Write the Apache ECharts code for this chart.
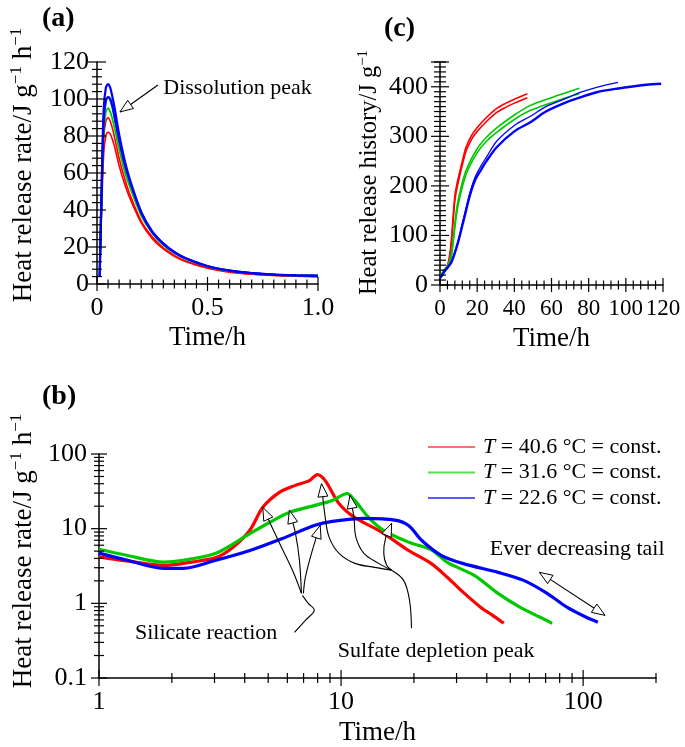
<!DOCTYPE html>
<html><head><meta charset="utf-8">
<script src="https://cdn.jsdelivr.net/npm/echarts@6/dist/echarts.min.js"></script>
<style>html,body{margin:0;padding:0;background:#fff}#c{width:685px;height:747px}</style>
</head><body><div id="c"></div>
<script>
// ---------- Panel (a): heat release rate, first hour ----------
const aTime   = [0.012, 0.02, 0.03, 0.04, 0.05, 0.06, 0.07, 0.08, 0.1, 0.125, 0.15, 0.2, 0.25, 0.3, 0.35, 0.4, 0.5, 0.6, 0.7, 0.8, 0.9, 1.0];
const aRed1   = [4, 40, 78, 88, 90, 88, 84, 79, 68, 57, 48, 34, 25.5, 19.5, 15.5, 12.5, 8.8, 6.6, 5.4, 4.7, 4.3, 4.0];
const aRed2   = [4, 36, 70, 80, 82, 81, 78, 74, 64, 54, 46, 33, 24.5, 19, 15, 12.2, 8.5, 6.4, 5.3, 4.6, 4.2, 3.9];
const aGreen1 = [4, 45, 88, 99, 101, 99, 95, 89, 77, 64, 54, 38, 28, 21.5, 17, 13.8, 9.6, 7.2, 5.9, 5.1, 4.7, 4.5];
const aGreen2 = [4, 42, 82, 93, 95, 93, 89, 84, 73, 61, 52, 37, 27.5, 21, 16.7, 13.5, 9.4, 7.1, 5.8, 5.0, 4.6, 4.4];
const aBlue1  = [4, 48, 94, 106, 108, 106, 101, 95, 81, 67, 56, 39, 28.5, 22, 17.3, 14, 9.7, 7.2, 5.9, 5.1, 4.7, 4.5];
const aBlue2  = [4, 45, 88, 99, 101, 100, 96, 90, 78, 65, 55, 38.5, 28, 21.7, 17.1, 13.9, 9.6, 7.2, 5.9, 5.1, 4.7, 4.4];
const aXLabels = {0: '0', 0.5: '0.5', 1: '1.0'};

// ---------- Panel (b): heat release rate, log-log ----------
const bTimeR = [1, 1.3, 1.85, 2.23, 3.04, 3.57, 4.2, 4.75, 5.56, 6.47, 7.4, 7.98, 8.6, 9.8, 11.4, 14.7, 19, 23.6, 27.6, 32, 37.8, 42, 47];
const bRed   = [4.2, 3.7, 3.22, 3.43, 4.1, 5.6, 9.5, 19.3, 30.6, 38, 44, 53, 44, 21.8, 14.1, 9, 5.1, 3.4, 2.2, 1.4, 0.88, 0.7, 0.54];
const bTimeG = [1, 1.3, 1.85, 2.23, 3.04, 4.2, 5.06, 6.1, 7.8, 9.2, 10.6, 11.4, 13, 15, 19, 23.6, 27.6, 35.5, 44.5, 55, 66.5, 74.5];
const bGreen = [5.3, 4.4, 3.57, 3.77, 4.67, 8.6, 12.1, 16.5, 20.5, 23.9, 29.6, 23.9, 14.1, 9.5, 6.6, 5.2, 3.5, 2.37, 1.36, 0.88, 0.65, 0.54];
const bTimeB = [1, 1.3, 1.85, 2.23, 3.04, 4.2, 5.73, 7.8, 9.2, 12.5, 16.7, 19, 21.5, 25.9, 32, 44.5, 56.8, 71, 86, 103, 115];
const bBlue  = [4.7, 3.8, 2.94, 2.94, 3.77, 5.1, 7.4, 11.1, 12.5, 13.7, 13, 11, 7, 4.4, 3.4, 2.6, 2.03, 1.36, 0.88, 0.65, 0.56];
const bLegend = ['40.6', '31.6', '22.6'];

// ---------- Panel (c): cumulative heat release ----------
const cTimeR  = [0.3, 2, 4, 5, 6, 7, 8, 9, 10, 12, 14, 17, 20, 25, 30, 35, 40, 47];
const cRed1   = [15, 27, 40, 55, 85, 135, 180, 202, 218, 250, 278, 302, 318, 338, 355, 366, 375, 386];
const cRed2   = [15, 25, 37, 50, 78, 125, 170, 193, 210, 242, 270, 294, 310, 330, 347, 358, 367, 378];
const cTimeG  = [0.3, 2, 4, 6, 7, 8, 9, 10, 12.5, 15, 20, 25, 30.5, 40, 48.4, 60, 66.2, 75];
const cGreen1 = [18, 30, 38, 60, 90, 125, 155, 175, 214, 240, 275, 298, 317, 343, 362, 378, 386, 397];
const cGreen2 = [18, 29, 36, 55, 82, 115, 145, 166, 205, 232, 267, 290, 308, 334, 352, 368, 376, 386];
const cTimeB1 = [0.3, 2, 4, 6, 8, 10, 12, 14, 16, 18.8, 22, 25, 30.5, 40, 48.4, 57, 66.2, 75, 84.3, 95, 111, 119];
const cBlue1  = [15, 25, 35, 45, 65, 90, 120, 150, 180, 211, 232, 250, 278, 310, 328, 350, 366, 378, 389, 396, 404, 406];
const cTimeB2 = [0.3, 2, 4, 6, 8, 10, 12, 14, 16, 18.8, 22, 25, 30.5, 40, 48.4, 57, 66.2, 75, 84.3, 95.8];
const cBlue2  = [15, 25, 35, 46, 67, 93, 124, 155, 185, 217, 240, 258, 290, 322, 340, 360, 374, 388, 399, 409];

// ---------- Annotations (data coordinates) ----------
const annA = {text: 'Dissolution peak', textAt: [0.30, 106], from: [0.276, 107.6], tip: [0.104, 93]};
const annSilicate = {
  text: 'Silicate reaction', textAt: [2.77, 0.40],
  arrows: [
    [[4.75, 19.3], [5.57, 6.36], [6.30, 2.77], [6.86, 1.36]],
    [[6.12, 17.6], [6.48, 8.65], [6.73, 3.76], [6.86, 1.36]],
    [[8.20, 11.07], [7.61, 5.12], [7.12, 2.23], [6.99, 1.36]]
  ],
  tail: [[6.92, 1.28], [7.32, 1.0], [7.75, 0.806], [7.12, 0.592], [6.42, 0.409]]
};
const annSulfate = {
  text: 'Sulfate depletion peak', textAt: [24.7, 0.228],
  arrows: [
    [[8.30, 40.0], [8.60, 14.17], [8.93, 7.65], [9.81, 4.67], [11.41, 3.43], [13.78, 3.03], [16.18, 2.77]],
    [[10.89, 27.9], [11.30, 14.17], [11.52, 7.65], [12.43, 4.67], [14.31, 3.43], [16.18, 2.77]],
    [[16.18, 11.78], [15.29, 7.65], [15.01, 4.67], [15.43, 3.23], [16.18, 2.77]]
  ],
  tail: [[16.18, 2.77], [18.13, 2.03], [19.18, 1.10], [19.54, 0.463]]
};
const annTail = {text: 'Ever decreasing tail', textAt: [94.5, 5.28], a: [66.0, 2.60], b: [123.1, 0.691]};

// ---------- Styling ----------
const FONT = 'Liberation Serif';
const RED = '#ff0000', GREEN = '#00c800', BLUE = '#0000ff';
const LRED = '#ff7070', LGREEN = '#50e050', LBLUE = '#5a5aff';

const zip = (t, v) => t.map((x, i) => [x, v[i]]);
function line(name, gi, t, v, color, w) {
  return {name, type: 'line', xAxisIndex: gi, yAxisIndex: gi, data: zip(t, v), smooth: 0.3,
    showSymbol: false, symbol: 'none', lineStyle: {color, width: w}, itemStyle: {color}, silent: true, z: 3};
}
function ticks(gi, axis, vals, other, half) {
  return {type: 'custom', xAxisIndex: gi, yAxisIndex: gi, silent: true, clip: false, z: 6,
    data: vals.map(v => axis === 'x' ? [v, other] : [other, v]),
    renderItem: (p, api) => {
      const c = api.coord([api.value(0), api.value(1)]);
      const shape = axis === 'x' ? {x1: c[0], y1: c[1] - half, x2: c[0], y2: c[1] + half}
                                 : {x1: c[0] - half, y1: c[1], x2: c[0] + half, y2: c[1]};
      return {type: 'line', shape, style: {stroke: '#000', lineWidth: 1.2}};
    }};
}
function range(a, b, s) { const r = []; for (let i = 0; a + i * s <= b + 1e-9; i++) r.push(+(a + i * s).toFixed(6)); return r; }

const axLine = {show: true, lineStyle: {color: '#000', width: 1.5}};
const lab = (size) => ({color: '#000', fontFamily: FONT, fontSize: size});
function richName(size, pad) {
  return {...lab(size), padding: pad, rich: {
    n: {fontFamily: FONT, fontSize: size, color: '#000', verticalAlign: 'bottom', lineHeight: size + 2},
    s: {fontFamily: FONT, fontSize: Math.round(size * 0.62), color: '#000', verticalAlign: 'bottom', padding: [0, 0, Math.round(size * 0.45), 0]}
  }};
}

// tick sets
const aXMaj = [0, 0.5, 1], aXMin = range(0.05, 0.95, 0.05).filter(v => Math.abs(v - 0.5) > 1e-6);
const aYMaj = range(0, 120, 20), aYMin = range(0, 120, 4).filter(v => v % 20 !== 0);
const cXMaj = range(0, 120, 20), cXMin = range(0, 120, 4).filter(v => v % 20 !== 0);
const cYMaj = range(0, 400, 100).concat([450]), cYMin = range(0, 450, 10).filter(v => v % 100 !== 0);
const bXMaj = [1, 10, 100], bXMin = [2,3,4,5,6,7,8,9,20,30,40,50,60,70,80,90,200];
const bYMaj = [0.1, 1, 10, 100], bYMin = [0.2,0.3,0.4,0.5,0.6,0.7,0.8,0.9,2,3,4,5,6,7,8,9,20,30,40,50,60,70,80,90];

const TICKF = 26, NAMEF = 27;
const chart = echarts.init(document.getElementById('c'), null, {renderer: 'canvas'});
const option = {
  animation: false,
  backgroundColor: '#fff',
  grid: [
    {left: 97, top: 62, width: 221, height: 222},
    {left: 95, top: 454, width: 561, height: 224},
    {left: 440, top: 62, width: 223, height: 223}
  ],
  xAxis: [
    {gridIndex: 0, type: 'value', min: 0, max: 1, interval: 0.5, axisLine: axLine, axisTick: {show: false}, splitLine: {show: false},
     axisLabel: {...lab(TICKF), margin: 11, showMinLabel: true, showMaxLabel: true, formatter: v => aXLabels[v] ?? ''},
     name: 'Time/h', nameLocation: 'middle', nameGap: 40, nameTextStyle: lab(NAMEF)},
    {gridIndex: 1, type: 'log', logBase: 10, min: 1, max: 200, axisLine: axLine, axisTick: {show: false}, splitLine: {show: false}, minorTick: {show: false},
     axisLabel: {...lab(TICKF), margin: 11, formatter: v => [1, 10, 100].includes(Math.round(v)) && Math.abs(v - Math.round(v)) < 1e-6 ? String(Math.round(v)) : ''},
     name: 'Time/h', nameLocation: 'middle', nameGap: 41, nameTextStyle: lab(NAMEF)},
    {gridIndex: 2, type: 'value', min: 0, max: 120, interval: 20, axisLine: axLine, axisTick: {show: false}, splitLine: {show: false},
     axisLabel: {...lab(23), margin: 12, showMinLabel: true, showMaxLabel: true},
     name: 'Time/h', nameLocation: 'middle', nameGap: 40, nameTextStyle: lab(NAMEF)}
  ],
  yAxis: [
    {gridIndex: 0, type: 'value', min: 0, max: 120, interval: 20, axisLine: axLine, axisTick: {show: false}, splitLine: {show: false},
     axisLabel: {...lab(TICKF), margin: 8, showMinLabel: true, showMaxLabel: true},
     name: '{n|Heat release rate/J g}{s|−1}{n| h}{s|−1}', nameLocation: 'middle', nameGap: 60, nameRotate: 90,
     nameTextStyle: richName(NAMEF, [0, 0, 0, 16])},
    {gridIndex: 1, type: 'log', logBase: 10, min: 0.1, max: 100, axisLine: axLine, axisTick: {show: false}, splitLine: {show: false}, minorTick: {show: false},
     axisLabel: {...lab(TICKF), margin: 12, showMinLabel: true, showMaxLabel: true, formatter: v => String(+(+v).toPrecision(2))},
     name: '{n|Heat release rate/J g}{s|−1}{n| h}{s|−1}', nameLocation: 'middle', nameGap: 62, nameRotate: 90,
     nameTextStyle: richName(NAMEF, [0, 0, 0, 30])},
    {gridIndex: 2, type: 'value', min: 0, max: 450, interval: 100, axisLine: axLine, axisTick: {show: false}, splitLine: {show: false},
     axisLabel: {...lab(TICKF), margin: 12, formatter: v => v % 100 === 0 ? String(v) : ''},
     name: '{n|Heat release history/J g}{s|−1}', nameLocation: 'middle', nameGap: 58, nameRotate: 90,
     nameTextStyle: richName(24.5, [0, 0, 0, 2])}
  ],
  legend: {
    left: 423, top: 431, orient: 'vertical', itemWidth: 47, itemHeight: 2, itemGap: 3.5, icon: 'rect',
    selectedMode: false,
    data: [
      {name: 'b0', itemStyle: {color: LRED}},
      {name: 'b1', itemStyle: {color: LGREEN}},
      {name: 'b2', itemStyle: {color: LBLUE}}
    ],
    formatter: n => '{i|T} = ' + bLegend[+n.slice(1)] + ' °C = const.',
    textStyle: {fontFamily: FONT, fontSize: 22, lineHeight: 22, color: '#000', padding: [0, 0, 0, 3],
      rich: {i: {fontFamily: FONT, fontSize: 22, lineHeight: 22, fontStyle: 'italic', color: '#000'}}}
  },
  series: [
    line('a', 0, aTime, aRed2, RED, 1.6), line('a', 0, aTime, aRed1, RED, 1.6),
    line('a', 0, aTime, aGreen2, GREEN, 1.8), line('a', 0, aTime, aGreen1, GREEN, 1.8),
    line('a', 0, aTime, aBlue2, BLUE, 2.2), line('a', 0, aTime, aBlue1, BLUE, 2.2),
    line('b0', 1, bTimeR, bRed, RED, 3.2), line('b1', 1, bTimeG, bGreen, GREEN, 3.2), line('b2', 1, bTimeB, bBlue, BLUE, 3.2),
    line('c', 2, cTimeR, cRed2, RED, 1.6), line('c', 2, cTimeR, cRed1, RED, 1.6),
    line('c', 2, cTimeG, cGreen2, GREEN, 1.6), line('c', 2, cTimeG, cGreen1, GREEN, 1.6),
    line('c', 2, cTimeB1, cBlue1, BLUE, 2.4), line('c', 2, cTimeB2, cBlue2, BLUE, 1.3),
    ticks(0, 'x', aXMaj, 0, 7), ticks(0, 'x', aXMin, 0, 4.5), ticks(0, 'y', aYMaj, 0, 9), ticks(0, 'y', aYMin, 0, 5),
    ticks(2, 'x', cXMaj, 0, 7), ticks(2, 'x', cXMin, 0, 4.5), ticks(2, 'y', cYMaj, 0, 9), ticks(2, 'y', cYMin, 0, 6),
    ticks(1, 'x', bXMaj, 0.1, 8), ticks(1, 'x', bXMin, 0.1, 5), ticks(1, 'y', bYMaj, 1, 8), ticks(1, 'y', bYMin, 1, 5)
  ]
};
chart.setOption(option);

// ---------- annotation graphics ----------
const px = (gi, p) => chart.convertToPixel({gridIndex: gi}, p);
function arrowHead(tip, from, L = 13, W = 5) {
  const dx = tip[0] - from[0], dy = tip[1] - from[1], d = Math.hypot(dx, dy) || 1;
  const ux = dx / d, uy = dy / d, bx = tip[0] - ux * L, by = tip[1] - uy * L;
  return {type: 'polygon', z: 20, shape: {points: [tip, [bx - uy * W, by + ux * W], [bx + uy * W, by - ux * W]]},
          style: {fill: '#fff', stroke: '#000', lineWidth: 1}};
}
function curve(pts) {
  return {type: 'polyline', z: 19, shape: {points: pts, smooth: 0.35}, style: {stroke: '#000', lineWidth: 1.1, fill: null}};
}
function text(str, p, align) {
  return {type: 'text', z: 20, style: {text: str, x: p[0], y: p[1], fill: '#000', font: '22px "' + FONT + '"', align: align || 'center', verticalAlign: 'middle'}};
}
const g = [];
{
  const f = px(0, annA.from), t = px(0, annA.tip);
  g.push(curve([f, t]), arrowHead(t, f), text(annA.text, px(0, annA.textAt), 'left'));
}
[annSilicate, annSulfate].forEach(an => {
  an.arrows.forEach(a => {
    const pts = a.map(p => px(1, p));
    g.push(curve(pts), arrowHead(pts[0], pts[1]));
  });
  g.push(curve(an.tail.map(p => px(1, p))));
  g.push(text(an.text, px(1, an.textAt)));
});
{
  const a = px(1, annTail.a), b = px(1, annTail.b);
  g.push(curve([a, b]), arrowHead(a, b), arrowHead(b, a), text(annTail.text, px(1, annTail.textAt)));
}
const bold = s => ({fill: '#000', font: 'bold 28px "' + FONT + '"', text: s});
g.push({type: 'text', z: 20, left: 42, top: 5, style: bold('(a)')});
g.push({type: 'text', z: 20, left: 384, top: 15, style: bold('(c)')});
g.push({type: 'text', z: 20, left: 42, top: 383, style: bold('(b)')});
chart.setOption({graphic: g});
</script></body></html>
